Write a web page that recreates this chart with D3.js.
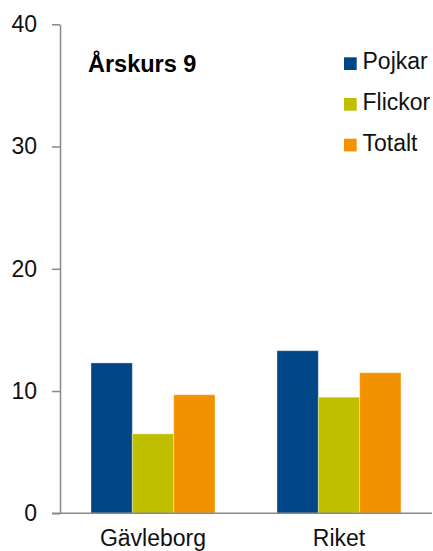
<!DOCTYPE html>
<html>
<head>
<meta charset="utf-8">
<script src="https://cdn.jsdelivr.net/npm/d3@7"></script>
<style>
  html, body { margin: 0; padding: 0; background: #fff; }
  svg { display: block; font-family: "Liberation Sans", Arial, sans-serif; }
</style>
</head>
<body>
<svg id="chart" width="433" height="551"></svg>
<script>
// Regions on the x axis
const categories = ["Gävleborg", "Riket"];
// Series shown in each group
const seriesNames = ["Pojkar", "Flickor", "Totalt"];
const seriesColors = ["#004586", "#bfbf00", "#f39200"];
// Values per series, in the order of categories
const pojkar = [12.3, 13.3];
const flickor = [6.5, 9.5];
const totalt = [9.7, 11.5];
const yTicks = [0, 10, 20, 30, 40];
const title = "Årskurs 9";

const seriesValues = [pojkar, flickor, totalt];
const rows = categories.map((c, i) => ({
  category: c,
  values: seriesNames.map((s, j) => ({ series: s, value: seriesValues[j][i], color: seriesColors[j] }))
}));

const svg = d3.select("#chart");
const axisColor = "#898989";
const fontSize = "23px";

const y = d3.scaleLinear().domain([0, 40]).range([513.3, 24.3]);
const x0 = d3.scaleBand().domain(categories).range([60, 432]).padding(0);
const x1 = d3.scaleBand().domain(seriesNames)
  .range([x0.bandwidth() / 6, x0.bandwidth() * 5 / 6]).padding(0);

// Bars
const groups = svg.append("g").selectAll("g").data(rows).join("g")
  .attr("transform", d => `translate(${x0(d.category)},0)`);
groups.selectAll("rect").data(d => d.values).join("rect")
  .attr("x", d => x1(d.series))
  .attr("width", x1.bandwidth())
  .attr("y", d => y(d.value))
  .attr("height", d => y(0) - y(d.value))
  .attr("fill", d => d.color)
  .attr("stroke", "rgba(255,255,255,0.35)")
  .attr("stroke-width", 1);

// Y axis
const yAxis = svg.append("g")
  .attr("transform", "translate(60,0)")
  .call(d3.axisLeft(y).tickValues(yTicks).tickSize(8).tickPadding(15).tickSizeOuter(0));
yAxis.select(".domain").attr("stroke", axisColor).attr("stroke-width", 1.5);
yAxis.selectAll(".tick line").attr("stroke", axisColor).attr("stroke-width", 1.5);
yAxis.selectAll(".tick text")
  .attr("fill", "#111")
  .style("font-size", fontSize)
  .style("font-family", "'Liberation Sans', Arial, sans-serif");

// X axis baseline with region labels
const xAxis = svg.append("g")
  .attr("transform", `translate(0,${y(0)})`)
  .call(d3.axisBottom(x0).tickSize(0).tickPadding(16).tickSizeOuter(0));
xAxis.select(".domain").attr("d", `M52,0H432`).attr("stroke", axisColor).attr("stroke-width", 1.5);
xAxis.selectAll(".tick text")
  .attr("fill", "#111")
  .style("font-size", fontSize)
  .style("font-family", "'Liberation Sans', Arial, sans-serif");

// Title
svg.append("text")
  .attr("x", 88).attr("y", 72)
  .attr("fill", "#000")
  .style("font-size", "23.5px")
  .style("font-weight", "bold")
  .text(title);

// Legend
const legend = svg.append("g").selectAll("g").data(seriesNames).join("g")
  .attr("transform", (d, i) => `translate(344,${57.3 + i * 40.7})`);
legend.append("rect")
  .attr("width", 12.7).attr("height", 12.7)
  .attr("fill", (d, i) => seriesColors[i]);
legend.append("text")
  .attr("x", 18.5).attr("y", 12)
  .attr("fill", "#111")
  .style("font-size", fontSize)
  .text(d => d);
</script>
</body>
</html>
